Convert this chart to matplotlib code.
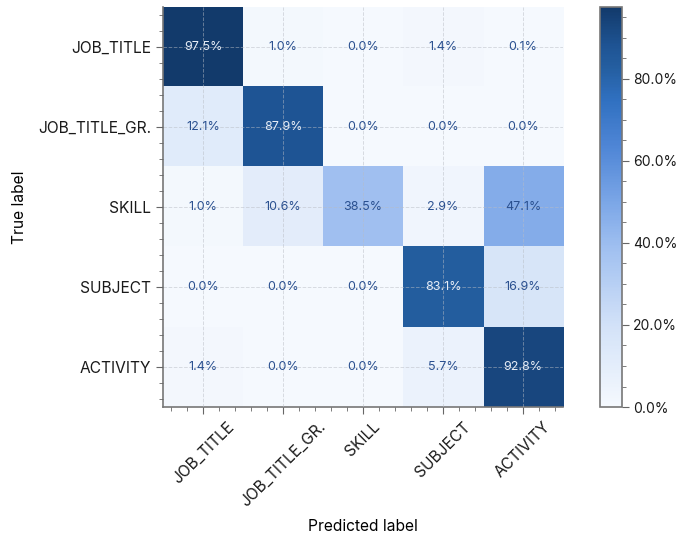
import numpy as np
import matplotlib
matplotlib.use('Agg')
import matplotlib.pyplot as plt
from matplotlib.colors import LinearSegmentedColormap
from matplotlib.ticker import FuncFormatter, AutoMinorLocator

plt.rcParams['font.family'] = ['Inter', 'DejaVu Sans']

labels = ['JOB_TITLE', 'JOB_TITLE_GR.', 'SKILL', 'SUBJECT', 'ACTIVITY']
# rows = true label, cols = predicted label (percent)
cm_pct = np.array([
    [97.5, 1.0, 0.0, 1.4, 0.1],
    [12.1, 87.9, 0.0, 0.0, 0.0],
    [1.0, 10.6, 38.5, 2.9, 47.1],
    [0.0, 0.0, 0.0, 83.1, 16.9],
    [1.4, 0.0, 0.0, 5.7, 92.8],
])

cmap = LinearSegmentedColormap.from_list('blu', [
    (0.0, '#f5f9fe'),
    (0.2, '#d3e2f8'),
    (0.4, '#9fbff0'),
    (0.5, '#7fa9e8'),
    (0.65, '#4f86d6'),
    (0.77, '#3070c0'),
    (0.85, '#245ea0'),
    (0.9, '#1f5595'),
    (1.0, '#123a6b'),
])

fig = plt.figure(figsize=(6.77, 5.37), dpi=100)
ax = fig.add_axes([0.2408, 0.242, 0.5909, 0.745])
cax = fig.add_axes([0.8862, 0.242, 0.0325, 0.745])

vmax = cm_pct.max()
im = ax.imshow(cm_pct, cmap=cmap, vmin=0, vmax=vmax, aspect='auto')

for i in range(len(labels)):
    for j in range(len(labels)):
        v = cm_pct[i, j]
        col = '#e6edf7' if v > 50 else '#2a5090'
        ax.text(j, i, '%.1f%%' % v, ha='center', va='center', fontsize=9, color=col)

ax.set_xticks(range(len(labels)))
ax.set_yticks(range(len(labels)))
ax.set_xticklabels(labels, rotation=45, fontsize=11.2)
ax.set_yticklabels(labels, fontsize=11.2)
ax.xaxis.set_minor_locator(AutoMinorLocator(5))
ax.yaxis.set_minor_locator(AutoMinorLocator(5))
ax.tick_params(which='major', length=5, color='#666666', labelcolor='#1a1a1a')
ax.tick_params(which='minor', length=3, color='#666666')
ax.grid(True, which='major', linestyle='--', color='#b8bcc4', alpha=0.5, linewidth=0.7)
ax.set_axisbelow(False)
for s in ['top', 'right']:
    ax.spines[s].set_visible(False)
for s in ['left', 'bottom']:
    ax.spines[s].set_color('#777777')
    ax.spines[s].set_linewidth(1.2)

ax.set_xlabel('Predicted label', fontsize=11.2, labelpad=7)
ax.set_ylabel('True label', fontsize=11.2, labelpad=8)

cb = fig.colorbar(im, cax=cax, format=FuncFormatter(lambda x, p: '%.1f%%' % x))
cb.set_ticks([0, 20, 40, 60, 80])
cb.ax.minorticks_on()
cb.ax.yaxis.set_minor_locator(AutoMinorLocator(4))
cb.ax.tick_params(which='major', length=5, pad=3, color='#666666', labelsize=10, labelcolor='#1a1a1a')
cb.ax.tick_params(which='minor', length=3, color='#666666')
cb.outline.set_edgecolor('#777777')
cb.outline.set_linewidth(1.2)

fig.savefig('out.png', dpi=100)
